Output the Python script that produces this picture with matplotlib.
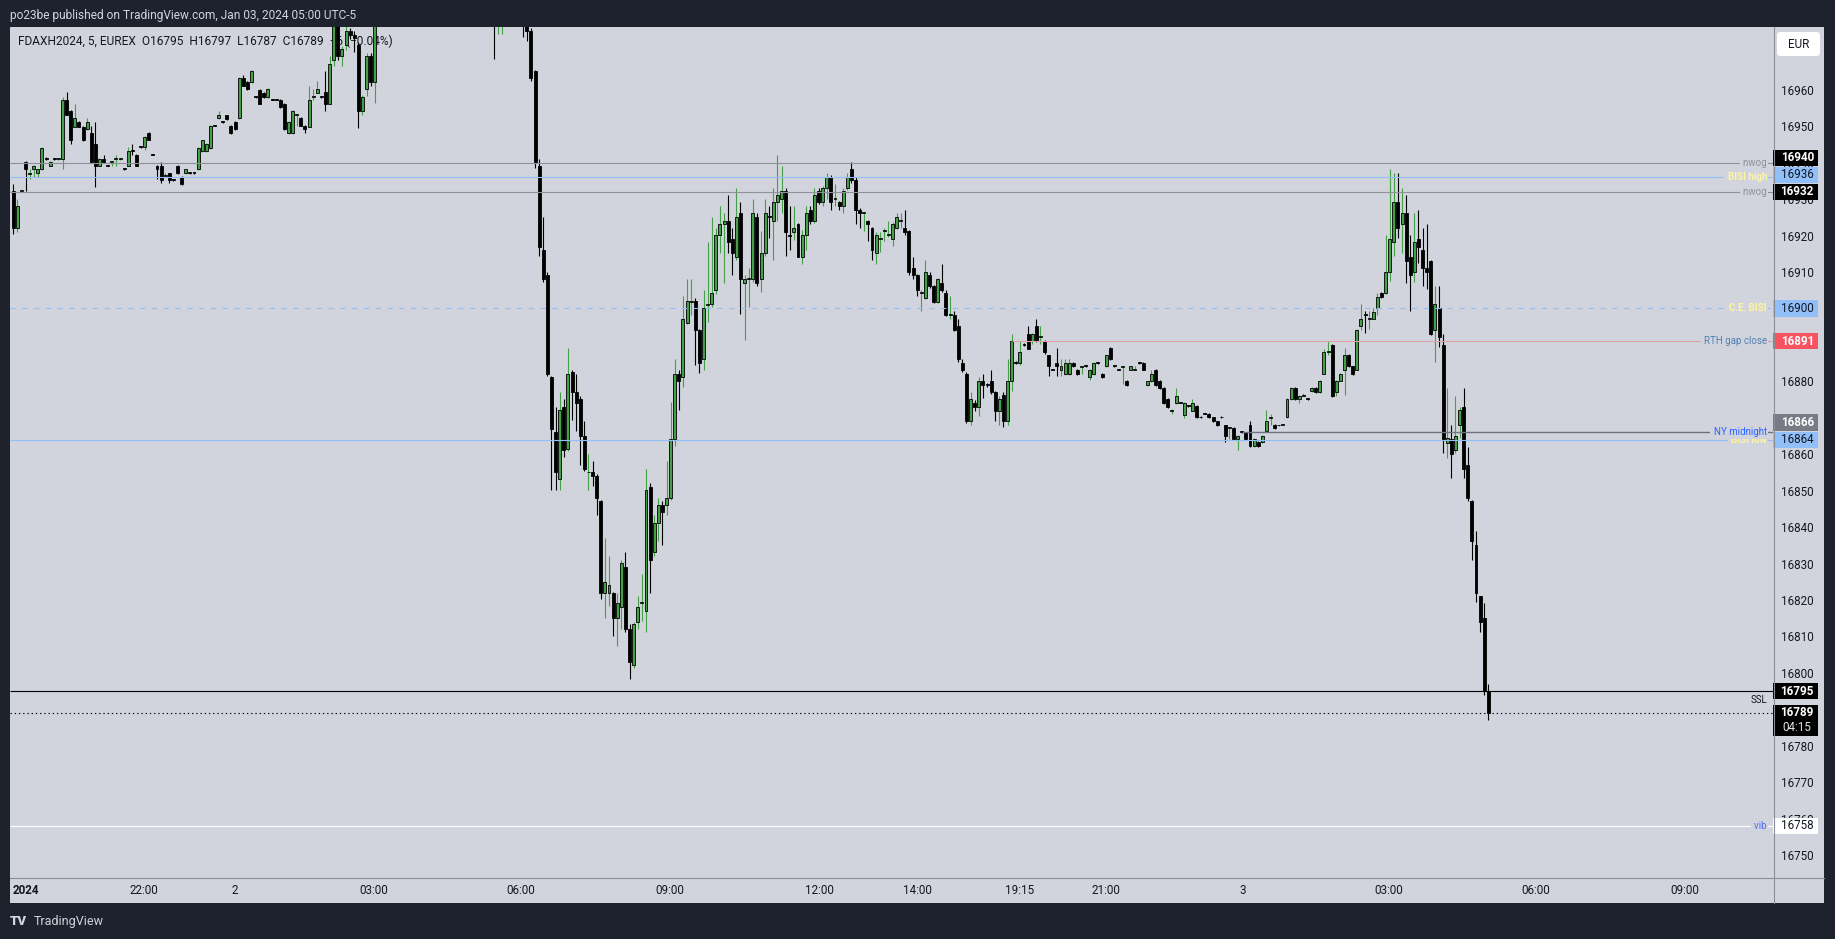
import matplotlib
matplotlib.use("Agg")
import matplotlib.pyplot as plt
import matplotlib.transforms as mtransforms
from matplotlib.lines import Line2D
from matplotlib.patches import FancyBboxPatch, Rectangle
import numpy as np

plt.rcParams["font.family"] = ["Roboto", "DejaVu Sans"]

# FDAXH2024 5-minute candles (bar 0 = first visible bar)
opens = [
    16932.3, 16922.0, 16932.2, 16940.2, 16937.0, 16938.2, 16937.1, 16938.2, 16941.2, 16939.2,
    16941.1, 16941.0, 16941.0, 16957.3, 16954.3, 16949.9, 16951.2, 16949.9, 16949.2, 16948.1,
    16945.1, 16939.2, 16941.0, 16939.3, 16940.1, 16940.9, 16941.0, 16938.3, 16939.2, 16943.2,
    16942.2, 16944.3, 16944.2, 16948.1, 16942.3, 16939.2, 16939.2, 16936.3, 16937.1, 16935.4,
    16939.2, 16936.2, 16937.1, 16937.2, 16937.2, 16938.2, 16943.1, 16943.1, 16944.0, 16950.2,
    16952.2, 16951.3, 16953.0, 16950.1, 16951.2, 16952.2, 16963.2, 16962.1, 16962.1, 16958.1,
    16960.0, 16959.1, 16958.0, 16957.4, 16957.4, 16957.3, 16956.1, 16948.1, 16948.1, 16953.0,
    16952.2, 16950.1, 16949.9, 16958.0, 16959.1, 16958.1, 16959.3, 16956.1, 16968.2, 16978.0,
    16969.3, 16972.3, 16976.2, 16975.1, 16972.3, 16954.3, 16960.2, 16969.3, 16962.1, 16982.0,
    16986.0, 16985.0, 16991.0, 16989.0, 16993.0, 16996.0, 16994.0, 16992.0, 16995.0, 16999.0,
    16997.0, 16995.0, 16993.0, 16994.0, 16998.0, 16996.0, 16994.0, 16992.0, 16991.0, 16989.0,
    16992.0, 16994.0, 16993.0, 16990.0, 16988.0, 16991.0, 16993.0, 16990.0, 16982.0, 16986.0,
    16990.0, 16992.0, 16989.0, 16991.0, 16988.0, 16984.0, 16976.2, 16965.2, 16939.2, 16916.1,
    16909.2, 16881.2, 16866.2, 16853.1, 16873.0, 16861.5, 16882.5, 16877.1, 16875.2, 16865.1,
    16855.0, 16855.1, 16854.1, 16847.2, 16821.9, 16821.9, 16821.9, 16815.1, 16818.0, 16829.1,
    16812.1, 16802.1, 16814.0, 16819.2, 16816.9, 16851.0, 16833.1, 16841.1, 16846.2, 16846.0,
    16848.0, 16864.2, 16882.0, 16881.2, 16896.0, 16901.8, 16902.0, 16894.2, 16886.1, 16901.0,
    16901.2, 16905.0, 16920.1, 16923.1, 16924.0, 16919.1, 16914.1, 16926.3, 16907.0, 16908.0,
    16908.1, 16925.2, 16908.1, 16915.2, 16925.3, 16924.0, 16929.2, 16930.0, 16932.2, 16920.1,
    16921.1, 16923.3, 16914.1, 16920.1, 16927.1, 16924.0, 16932.2, 16929.2, 16933.0, 16936.1,
    16930.0, 16929.2, 16928.2, 16933.0, 16938.2, 16935.3, 16927.1, 16926.2, 16924.0, 16922.1,
    16915.2, 16919.0, 16921.3, 16920.1, 16919.1, 16922.1, 16924.0, 16922.1, 16921.3, 16911.1,
    16909.2, 16904.2, 16903.0, 16909.2, 16906.1, 16901.9, 16907.0, 16904.2, 16898.2, 16898.3,
    16895.3, 16885.0, 16882.1, 16869.0, 16874.1, 16872.9, 16880.2, 16879.0, 16880.2, 16877.1,
    16872.0, 16876.2, 16869.0, 16880.0, 16885.1, 16885.0, 16890.2, 16893.0, 16891.0, 16895.3,
    16892.1, 16891.0, 16887.1, 16883.3, 16885.0, 16883.2, 16882.0, 16882.0, 16885.0, 16883.2,
    16884.0, 16884.2, 16881.1, 16882.0, 16885.1, 16882.0, 16884.1, 16889.2, 16884.2, 16883.3,
    16884.0, 16880.2, 16883.2, 16883.2, 16885.1, 16885.0, 16878.9, 16880.0, 16883.2, 16880.2,
    16878.2, 16875.2, 16872.0, 16874.1, 16874.2, 16870.9, 16873.3, 16872.0, 16873.2, 16870.2,
    16871.2, 16871.1, 16870.1, 16869.0, 16870.2, 16867.9, 16867.1, 16867.2, 16864.2, 16866.1,
    16866.0, 16868.1, 16862.2, 16863.3, 16863.3, 16866.3, 16870.0, 16868.1, 16867.9, 16868.0,
    16870.1, 16875.2, 16878.2, 16875.2, 16876.2, 16875.3, 16877.3, 16878.2, 16877.1, 16882.1,
    16888.0, 16890.1, 16877.0, 16880.2, 16883.2, 16887.3, 16884.1, 16883.2, 16895.1, 16898.3,
    16897.2, 16897.2, 16900.1, 16904.2, 16904.2, 16909.9, 16918.2, 16929.2, 16923.2, 16926.3,
    16914.1, 16910.0, 16919.1, 16916.1, 16911.1, 16913.1, 16894.0, 16900.1, 16890.0, 16863.0,
    16864.2, 16861.1, 16867.9, 16873.0, 16857.1, 16847.1, 16835.2, 16821.0, 16815.2, 16795.0,
]
highs = [
    16934.2, 16930.0, 16932.5, 16940.4, 16938.2, 16939.3, 16938.4, 16944.2, 16941.5, 16940.4,
    16941.3, 16941.3, 16958.0, 16959.3, 16954.5, 16956.2, 16951.4, 16950.1, 16952.2, 16950.0,
    16951.2, 16941.2, 16942.2, 16939.5, 16940.3, 16942.2, 16941.2, 16938.5, 16944.2, 16945.1,
    16942.4, 16944.5, 16947.2, 16948.3, 16942.5, 16939.4, 16940.2, 16937.1, 16937.3, 16935.6,
    16939.4, 16936.4, 16938.4, 16937.4, 16937.4, 16944.2, 16946.3, 16945.3, 16950.3, 16950.4,
    16954.3, 16951.5, 16953.2, 16950.3, 16951.4, 16963.4, 16964.0, 16962.3, 16965.4, 16958.3,
    16960.2, 16959.3, 16960.4, 16957.6, 16957.6, 16957.5, 16956.3, 16951.4, 16954.4, 16953.2,
    16952.4, 16950.3, 16961.1, 16960.2, 16962.3, 16958.3, 16965.2, 16969.3, 16980.0, 16980.0,
    16972.0, 16978.0, 16977.0, 16976.0, 16973.0, 16958.5, 16970.0, 16970.0, 16984.0, 16988.0,
    16990.0, 16992.0, 16995.0, 16994.0, 16998.0, 16999.0, 16997.0, 16996.0, 17001.0, 17003.0,
    17000.0, 16998.0, 16996.0, 16999.0, 17002.0, 16999.0, 16997.0, 16995.0, 16994.0, 16993.0,
    16996.0, 16997.0, 16996.0, 16993.0, 16992.0, 16995.0, 16996.0, 16993.0, 16990.0, 16992.0,
    16994.0, 16995.0, 16993.0, 16994.0, 16991.0, 16987.0, 16977.0, 16965.5, 16941.0, 16925.1,
    16910.0, 16881.5, 16873.0, 16877.1, 16875.2, 16889.2, 16883.2, 16882.0, 16876.1, 16869.2,
    16860.2, 16858.2, 16854.5, 16847.5, 16837.0, 16832.2, 16822.2, 16821.9, 16831.0, 16833.1,
    16813.3, 16814.0, 16821.0, 16827.2, 16855.9, 16852.0, 16843.3, 16848.0, 16847.2, 16858.2,
    16874.2, 16886.2, 16883.2, 16903.3, 16908.1, 16908.1, 16903.0, 16894.5, 16905.1, 16918.2,
    16925.2, 16922.1, 16928.2, 16926.3, 16931.2, 16922.1, 16933.0, 16929.2, 16909.2, 16911.1,
    16930.1, 16926.3, 16921.2, 16930.1, 16928.2, 16933.0, 16942.2, 16939.2, 16933.0, 16928.2,
    16928.2, 16923.5, 16921.6, 16928.2, 16928.2, 16933.0, 16933.0, 16933.5, 16937.1, 16936.5,
    16934.1, 16929.5, 16933.0, 16937.1, 16940.2, 16936.1, 16927.5, 16926.6, 16924.3, 16922.4,
    16921.1, 16921.1, 16922.0, 16924.0, 16923.6, 16926.3, 16926.3, 16927.1, 16921.5, 16914.1,
    16909.5, 16905.1, 16913.2, 16910.0, 16906.4, 16908.4, 16912.2, 16905.1, 16903.3, 16899.2,
    16897.2, 16886.0, 16882.5, 16877.1, 16875.0, 16881.2, 16882.1, 16879.5, 16883.2, 16877.4,
    16876.0, 16877.1, 16886.2, 16893.1, 16885.5, 16891.0, 16890.5, 16895.3, 16893.2, 16897.2,
    16895.3, 16891.3, 16887.3, 16883.5, 16889.2, 16886.2, 16886.2, 16886.2, 16885.2, 16883.4,
    16884.3, 16884.4, 16883.4, 16885.2, 16885.3, 16882.2, 16887.3, 16889.4, 16884.4, 16883.5,
    16884.3, 16880.4, 16884.3, 16884.1, 16885.3, 16885.2, 16880.2, 16883.2, 16883.4, 16880.4,
    16878.4, 16875.4, 16872.3, 16878.2, 16874.4, 16874.3, 16873.5, 16875.2, 16873.4, 16870.4,
    16871.4, 16871.3, 16870.3, 16869.2, 16870.4, 16868.1, 16867.4, 16867.4, 16865.3, 16866.3,
    16866.2, 16869.0, 16864.4, 16863.5, 16865.3, 16872.2, 16871.1, 16868.3, 16868.1, 16868.3,
    16875.4, 16878.4, 16878.4, 16876.3, 16876.4, 16875.5, 16878.4, 16878.4, 16880.4, 16889.0,
    16891.2, 16890.3, 16880.4, 16882.3, 16889.2, 16887.5, 16884.3, 16894.4, 16901.3, 16899.2,
    16899.2, 16900.1, 16904.2, 16904.4, 16920.2, 16938.3, 16937.1, 16937.1, 16933.0, 16931.1,
    16920.2, 16926.3, 16927.1, 16922.2, 16923.2, 16913.3, 16906.2, 16906.2, 16893.1, 16878.3,
    16868.1, 16876.1, 16873.0, 16878.3, 16862.0, 16847.4, 16839.0, 16821.2, 16819.2, 16797.0,
]
lows = [
    16920.5, 16921.0, 16932.0, 16932.3, 16935.5, 16936.2, 16936.2, 16938.0, 16940.8, 16939.0,
    16940.8, 16940.8, 16938.4, 16953.0, 16945.2, 16949.8, 16949.8, 16946.0, 16949.0, 16940.0,
    16933.3, 16939.0, 16940.0, 16939.0, 16939.2, 16939.2, 16940.8, 16938.0, 16939.0, 16942.2,
    16939.0, 16944.0, 16943.5, 16946.1, 16942.0, 16935.5, 16934.4, 16936.2, 16934.4, 16935.1,
    16937.0, 16934.0, 16937.0, 16937.0, 16937.0, 16938.0, 16943.0, 16942.8, 16943.8, 16950.0,
    16952.0, 16951.0, 16951.8, 16948.0, 16949.0, 16952.0, 16961.0, 16960.0, 16962.0, 16957.8,
    16956.0, 16957.8, 16957.8, 16957.1, 16957.1, 16955.0, 16949.0, 16948.0, 16948.0, 16950.1,
    16950.0, 16948.1, 16949.7, 16957.3, 16959.0, 16957.8, 16954.3, 16956.0, 16966.4, 16968.2,
    16966.4, 16971.0, 16974.0, 16970.3, 16949.5, 16953.1, 16958.2, 16961.0, 16956.3, 16980.0,
    16983.0, 16984.0, 16988.0, 16986.0, 16991.0, 16992.0, 16990.0, 16989.0, 16993.0, 16996.0,
    16993.0, 16991.0, 16990.0, 16992.0, 16995.0, 16992.0, 16990.0, 16988.0, 16987.0, 16986.0,
    16990.0, 16991.0, 16989.0, 16986.0, 16985.0, 16988.0, 16989.0, 16968.4, 16975.3, 16975.3,
    16986.0, 16987.0, 16985.0, 16986.0, 16974.4, 16973.3, 16962.3, 16938.5, 16914.3, 16907.2,
    16881.4, 16850.3, 16850.3, 16850.3, 16859.2, 16861.0, 16869.5, 16866.3, 16857.1, 16855.5,
    16850.3, 16851.2, 16843.3, 16820.3, 16815.1, 16818.3, 16810.2, 16807.3, 16812.1, 16811.2,
    16798.2, 16801.4, 16812.0, 16814.2, 16811.2, 16821.9, 16832.0, 16836.3, 16835.2, 16843.3,
    16847.5, 16862.2, 16872.2, 16878.4, 16895.6, 16898.3, 16884.6, 16882.3, 16883.2, 16896.2,
    16900.4, 16904.0, 16915.2, 16907.0, 16915.2, 16909.3, 16913.4, 16898.5, 16891.3, 16900.4,
    16907.2, 16906.1, 16904.4, 16914.3, 16919.3, 16913.4, 16924.0, 16926.3, 16914.3, 16916.1,
    16918.9, 16914.0, 16912.3, 16916.1, 16923.3, 16923.5, 16928.8, 16928.2, 16930.1, 16927.1,
    16928.2, 16927.1, 16926.3, 16932.5, 16934.4, 16923.3, 16922.1, 16921.3, 16918.4, 16913.2,
    16912.2, 16915.4, 16918.4, 16919.5, 16917.2, 16921.8, 16922.1, 16920.2, 16909.2, 16908.0,
    16903.3, 16899.2, 16902.5, 16905.7, 16901.4, 16901.5, 16904.4, 16898.0, 16897.1, 16893.8,
    16885.2, 16882.5, 16868.5, 16868.1, 16872.0, 16870.4, 16875.3, 16878.5, 16876.5, 16869.0,
    16868.1, 16867.4, 16868.1, 16877.3, 16884.8, 16884.5, 16889.8, 16888.8, 16890.3, 16890.8,
    16890.3, 16887.6, 16881.4, 16883.0, 16881.4, 16881.4, 16881.8, 16881.8, 16883.9, 16881.8,
    16882.1, 16884.0, 16880.5, 16881.8, 16884.8, 16880.9, 16883.9, 16885.9, 16884.0, 16883.0,
    16879.3, 16878.7, 16883.0, 16883.0, 16884.8, 16883.0, 16878.7, 16879.8, 16878.7, 16878.0,
    16873.9, 16872.7, 16871.1, 16873.9, 16874.0, 16870.0, 16873.0, 16871.8, 16869.9, 16870.0,
    16871.0, 16869.9, 16868.8, 16867.7, 16870.0, 16863.3, 16864.2, 16864.0, 16861.3, 16865.8,
    16864.0, 16862.0, 16862.0, 16862.0, 16863.1, 16866.1, 16868.1, 16867.0, 16867.7, 16867.9,
    16869.9, 16875.0, 16875.0, 16874.1, 16876.0, 16875.0, 16877.1, 16876.9, 16876.9, 16881.9,
    16887.3, 16875.7, 16875.9, 16880.0, 16876.2, 16883.9, 16881.8, 16883.0, 16894.2, 16893.3,
    16894.4, 16897.0, 16898.3, 16902.9, 16904.0, 16907.4, 16914.3, 16919.3, 16915.2, 16907.0,
    16899.2, 16907.2, 16912.4, 16906.3, 16905.3, 16892.8, 16885.2, 16889.5, 16860.3, 16859.1,
    16853.4, 16860.3, 16864.4, 16853.4, 16847.3, 16831.1, 16819.4, 16811.1, 16794.0, 16787.0,
]
closes = [
    16922.0, 16928.2, 16932.3, 16938.2, 16937.2, 16939.2, 16938.2, 16944.0, 16941.0, 16940.2,
    16941.0, 16941.0, 16957.3, 16953.0, 16946.1, 16952.2, 16949.9, 16946.1, 16951.2, 16940.2,
    16939.2, 16941.0, 16940.2, 16939.2, 16940.2, 16941.0, 16941.0, 16938.2, 16943.1, 16943.1,
    16939.2, 16944.2, 16947.0, 16946.3, 16942.2, 16938.2, 16935.3, 16936.4, 16935.3, 16935.3,
    16937.1, 16934.1, 16938.2, 16937.1, 16937.1, 16944.0, 16946.1, 16945.1, 16950.1, 16950.1,
    16953.0, 16951.2, 16952.0, 16948.1, 16949.2, 16963.2, 16961.1, 16960.2, 16965.2, 16958.0,
    16956.1, 16958.0, 16960.2, 16957.3, 16957.3, 16955.2, 16949.2, 16951.2, 16954.2, 16953.0,
    16950.1, 16949.2, 16957.3, 16958.0, 16960.2, 16958.0, 16956.1, 16967.2, 16978.0, 16969.3,
    16971.2, 16976.2, 16975.1, 16974.2, 16954.3, 16958.0, 16969.3, 16962.1, 16982.0, 16986.0,
    16985.0, 16991.0, 16989.0, 16993.0, 16996.0, 16994.0, 16992.0, 16995.0, 16999.0, 16997.0,
    16995.0, 16993.0, 16994.0, 16998.0, 16996.0, 16994.0, 16992.0, 16991.0, 16989.0, 16992.0,
    16994.0, 16993.0, 16990.0, 16988.0, 16991.0, 16993.0, 16990.0, 16982.0, 16988.0, 16990.0,
    16992.0, 16989.0, 16991.0, 16988.0, 16984.0, 16976.0, 16963.2, 16940.1, 16917.0, 16908.1,
    16882.0, 16867.0, 16855.1, 16872.2, 16861.1, 16882.0, 16877.1, 16874.1, 16864.9, 16855.9,
    16855.1, 16853.9, 16848.0, 16821.9, 16825.0, 16824.1, 16815.1, 16819.2, 16830.2, 16812.1,
    16803.0, 16813.3, 16818.0, 16819.3, 16850.3, 16831.1, 16841.1, 16846.2, 16844.2, 16848.0,
    16864.2, 16882.0, 16880.2, 16897.2, 16902.0, 16901.9, 16894.2, 16885.0, 16900.1, 16901.2,
    16904.2, 16920.2, 16923.3, 16924.0, 16918.1, 16915.2, 16925.2, 16908.1, 16908.1, 16908.1,
    16926.3, 16907.0, 16915.2, 16926.3, 16925.2, 16929.2, 16931.1, 16932.2, 16921.1, 16920.0,
    16922.1, 16914.1, 16920.2, 16926.3, 16924.0, 16931.1, 16929.2, 16933.0, 16936.1, 16929.2,
    16930.0, 16928.2, 16932.2, 16936.1, 16935.3, 16927.1, 16926.2, 16926.3, 16923.1, 16916.1,
    16920.1, 16919.1, 16921.3, 16920.2, 16923.3, 16925.2, 16924.1, 16921.1, 16910.0, 16909.2,
    16905.0, 16904.3, 16910.0, 16906.1, 16901.9, 16908.1, 16905.0, 16898.3, 16898.3, 16894.0,
    16886.0, 16883.0, 16869.0, 16875.2, 16872.9, 16880.2, 16878.9, 16878.9, 16877.1, 16872.0,
    16875.2, 16869.0, 16880.2, 16891.0, 16885.0, 16888.0, 16890.1, 16889.0, 16893.0, 16891.0,
    16892.2, 16888.0, 16884.1, 16883.2, 16884.1, 16884.1, 16885.0, 16885.0, 16884.1, 16882.0,
    16884.1, 16884.1, 16883.2, 16885.0, 16885.0, 16881.1, 16887.1, 16886.1, 16884.1, 16883.2,
    16884.1, 16878.9, 16884.1, 16883.2, 16885.0, 16883.2, 16880.0, 16882.0, 16878.9, 16878.2,
    16874.1, 16872.9, 16872.1, 16876.1, 16874.1, 16874.1, 16873.2, 16874.1, 16870.1, 16870.1,
    16871.1, 16870.1, 16869.0, 16867.9, 16870.1, 16864.9, 16867.2, 16864.2, 16865.1, 16866.0,
    16864.2, 16862.2, 16864.2, 16862.2, 16865.1, 16869.0, 16870.1, 16867.2, 16867.9, 16868.1,
    16875.2, 16878.2, 16875.2, 16876.1, 16876.1, 16875.2, 16878.2, 16877.1, 16880.2, 16888.0,
    16888.1, 16875.9, 16880.2, 16882.1, 16887.3, 16884.1, 16882.0, 16894.2, 16897.2, 16898.2,
    16897.3, 16899.0, 16903.1, 16903.1, 16909.9, 16919.0, 16929.2, 16922.1, 16926.2, 16912.9,
    16909.1, 16918.2, 16917.0, 16911.1, 16910.0, 16893.0, 16901.2, 16892.1, 16864.1, 16864.4,
    16860.0, 16865.1, 16872.2, 16856.0, 16847.9, 16836.2, 16822.0, 16813.9, 16795.1, 16789.0,
]

time_tick_bars = [3.0, 31.8, 54.0, 87.8, 123.6, 159.9, 196.1, 220.0, 244.8, 266.0, 299.1, 334.8, 370.6, 406.9]
time_tick_labels = ["2024", "22:00", "2", "03:00", "06:00", "09:00", "12:00", "14:00",
                    "19:15", "21:00", "3", "03:00", "06:00", "09:00"]

price_ticks = [16750, 16760, 16770, 16780, 16790, 16800, 16810, 16820, 16830, 16840, 16850,
               16860, 16870, 16880, 16900, 16910, 16920, 16930, 16940, 16950, 16960]

level_prices = [16940, 16936, 16932, 16900, 16891, 16864, 16866, 16795, 16758]
level_names = ["nwog", "BISI high", "nwog", "C.E. BISI", "RTH gap close", "BISI low", "NY midnight", "SSL", "vib"]
level_start_bar = [None, None, None, None, 243, None, 299, None, None]

last_price = 16789
countdown = "04:15"
legend_text = "FDAXH2024, 5, EUREX  O16795  H16797  L16787  C16789  \u22126 (\u22120.04%)"
header_text = "po23be published on TradingView.com, Jan 03, 2024 05:00 UTC-5"

# ---- styling ----
W, H, DPI = 1835, 939, 100
FRAME = "#1e222d"
PANE = "#d1d4dc"
INK = "#131722"
SEP = "#8b8e97"
UP = "#43a047"
LIGHT_BLUE = "#90bff9"
PALE_YELLOW = "#fff59d"

# line color, width, style, label color, label bold, box face, box text, box bold, box shift (px, up<0)
LEVEL_STYLE = [
    ("#8e9199", 0.8, "-", "#8e9199", False, "black", "white", True, -5.0),
    (LIGHT_BLUE, 0.8, "-", PALE_YELLOW, True, LIGHT_BLUE, INK, False, -2.6),
    ("#8e9199", 0.8, "-", "#8e9199", False, "black", "white", True, 0.0),
    (LIGHT_BLUE, 0.8, (0, (4.8, 5.8)), PALE_YELLOW, True, LIGHT_BLUE, INK, False, 0.0),
    ("#dfa0a8", 0.8, "-", "#4f7fb4", False, "#f7525f", "white", True, 0.0),
    (LIGHT_BLUE, 0.8, "-", PALE_YELLOW, True, LIGHT_BLUE, INK, False, 0.0),
    ("#6f7380", 1.0, "-", "#2962ff", False, "#787b86", "white", True, -9.9),
    ("black", 0.8, "-", INK, False, "black", "white", True, 0.0),
    ("white", 0.8, "-", "#4f6ef0", False, "white", INK, False, 0.0),
]

PX_LEFT, PX_RIGHT, PX_TOP, PX_BOTTOM = 10, 1773, 27, 877
BAR0_PX, BAR_STEP_PX = 13.2, 4.109
PRICE_TOP, PRICE_BOTTOM = 16977.23, 16744.0
PX_PER_PT = (PX_BOTTOM - PX_TOP) / (PRICE_TOP - PRICE_BOTTOM)
AX_W = PX_RIGHT - PX_LEFT


def fx(px):
    return px / W


def fy(py):
    return 1 - py / H


fig = plt.figure(figsize=(W / DPI, H / DPI), dpi=DPI)
fig.patch.set_facecolor(FRAME)
fig.add_artist(Rectangle((fx(10), fy(903)), (1824 - 10) / W, (903 - 27) / H,
                         transform=fig.transFigure, facecolor=PANE, edgecolor="none", zorder=-2))

ax = fig.add_axes([fx(PX_LEFT), fy(PX_BOTTOM), AX_W / W, (PX_BOTTOM - PX_TOP) / H])
ax.set_facecolor(PANE)
for s in ax.spines.values():
    s.set_visible(False)

# separators between pane, price scale and time scale
fig.add_artist(Line2D([fx(1773.5), fx(1773.5)], [fy(27), fy(903)], color=SEP, lw=0.8))
fig.add_artist(Line2D([fx(10), fx(1824)], [fy(877.5), fy(877.5)], color=SEP, lw=0.8))

# candles
o, h, l, c = (np.array(v) for v in (opens, highs, lows, closes))
x = np.arange(len(c))
up = c >= o
ax.vlines(x[up], l[up], h[up], color=UP, lw=0.8, zorder=2)
ax.vlines(x[~up], l[~up], h[~up], color="black", lw=0.8, zorder=2)
body_lo = np.minimum(o, c)
body_h = np.maximum(np.abs(c - o), 0.25)
ax.bar(x[up], body_h[up], bottom=body_lo[up], width=0.72, color=UP,
       edgecolor="black", linewidth=0.6, zorder=3)
ax.bar(x[~up], body_h[~up], bottom=body_lo[~up], width=0.72, color="black",
       edgecolor="black", linewidth=0.6, zorder=3)

xmin = (PX_LEFT - BAR0_PX) / BAR_STEP_PX
xmax = (PX_RIGHT - BAR0_PX) / BAR_STEP_PX
trans = mtransforms.blended_transform_factory(ax.transAxes, ax.transData)
label_x = (1767 - PX_LEFT) / AX_W
box_x = (1817.7 - PX_RIGHT) / AX_W
box_cx = 1 + (1797.2 - PX_RIGHT) / AX_W
box_half = 8.1 / PX_PER_PT

for i, (p, name, start) in enumerate(zip(level_prices, level_names, level_start_bar)):
    lc, lw, ls, tc, tb, bf, bt, bb, shift = LEVEL_STYLE[i]
    ax.hlines(p, xmin if start is None else start, xmax, color=lc, lw=lw, linestyle=ls, zorder=4)
    if name == "SSL":
        ax.text(label_x, p - 8.8 / PX_PER_PT, name, transform=trans, ha="right", va="center",
                fontsize=7, color=tc, zorder=5)
    else:
        ax.text(label_x, p, "\u2009" + name, transform=trans, ha="right", va="center", fontsize=7,
                color=tc, fontweight="bold" if tb else "normal", zorder=5 + i * 0.01,
                bbox=dict(facecolor=PANE, edgecolor="none", pad=1.0))
    yc = p - shift / PX_PER_PT
    ax.add_patch(Rectangle((1.0, yc - box_half), box_x, 2 * box_half, transform=trans,
                           facecolor=bf, edgecolor="none", clip_on=False, zorder=6 + i * 0.01))
    ax.text(box_cx, yc, f"{p}", transform=trans, ha="center", va="center", fontsize=8.4,
            color=bt, fontweight="bold" if bb else "normal", clip_on=False, zorder=6.005 + i * 0.01)

# current price line and box with countdown
ax.hlines(last_price, xmin, xmax, color="black", lw=0.8, linestyle=(0, (1.2, 2.6)), zorder=4)
ax.add_patch(Rectangle((1.0, last_price - 23 / PX_PER_PT), box_x, 31 / PX_PER_PT, transform=trans,
                       facecolor="black", edgecolor="none", clip_on=False, zorder=7))
ax.text(box_cx, last_price, f"{last_price}", transform=trans, ha="center", va="center",
        fontsize=8.4, color="white", fontweight="bold", clip_on=False, zorder=7.5)
ax.text(box_cx, last_price - 14.7 / PX_PER_PT, countdown, transform=trans, ha="center",
        va="center", fontsize=8.4, color="#e0e3eb", clip_on=False, zorder=7.5)

# legend row inside the pane (drawn under the candles)
ax.text((18.4 - PX_LEFT) / AX_W, (PX_BOTTOM - 41.7) / (PX_BOTTOM - PX_TOP), legend_text,
        transform=ax.transAxes, ha="left", va="center", fontsize=8.6, color=INK, zorder=1)

# axes scales
ax.set_xlim(xmin, xmax)
ax.set_ylim(PRICE_BOTTOM, PRICE_TOP)
ax.yaxis.tick_right()
ax.set_yticks(price_ticks)
ax.set_yticklabels([str(v) for v in price_ticks])
ax.tick_params(axis="y", length=0, pad=17.4, labelsize=8.4, labelcolor=INK)
for t in ax.get_yticklabels():
    t.set_horizontalalignment("center")
ax.set_xticks(time_tick_bars)
ax.set_xticklabels(time_tick_labels)
ax.tick_params(axis="x", length=0, pad=5.0, labelsize=8.4, labelcolor=INK)
ax.get_xticklabels()[0].set_fontweight("bold")

# currency button on the price scale
fig.add_artist(FancyBboxPatch((1777, H - 56), 43, 24, boxstyle="round,pad=0,rounding_size=3",
                              transform=mtransforms.IdentityTransform(),
                              facecolor="white", edgecolor="none", zorder=5))
fig.text(fx(1798.5), fy(44), "EUR", ha="center", va="center", fontsize=8.4, color=INK, zorder=6)

# header and footer on the dark frame
fig.text(fx(9.6), fy(15), header_text, ha="left", va="center", fontsize=8.6, color="#d1d4dc")
fig.text(fx(10), fy(921.7), "TV", ha="left", va="center", fontsize=9.5, fontweight="heavy", color="#d1d4dc")
fig.text(fx(33.5), fy(921.7), "TradingView", ha="left", va="center", fontsize=9, color="#d1d4dc")

fig.savefig("out.png", dpi=DPI, facecolor=FRAME)
